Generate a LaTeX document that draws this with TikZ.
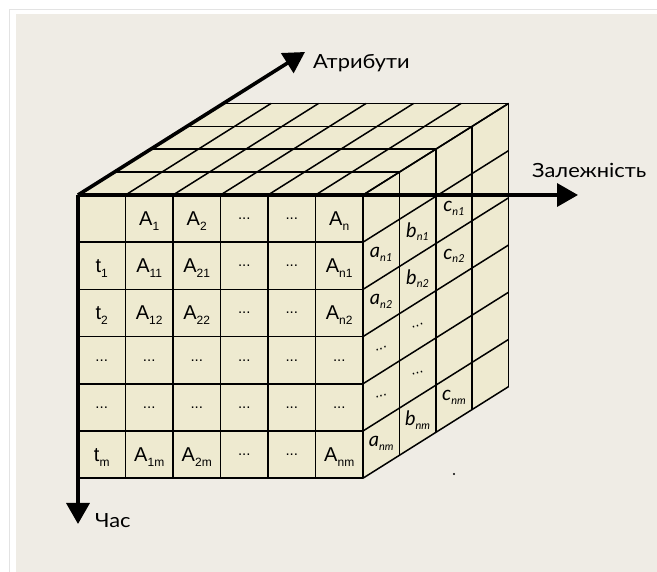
\documentclass[tikz,border=0pt]{standalone}
\usepackage{fontspec}
\setmainfont{Liberation Sans}
\newfontfamily\axfont[FakeStretch=1.12]{Lato}
\newfontfamily\sidefont{Lato}
\usetikzlibrary{arrows.meta}
\definecolor{panel}{HTML}{EFECE5}
\definecolor{cellc}{HTML}{EEEAD0}
\definecolor{frameg}{HTML}{E3E3E3}
\newcommand{\Sb}[2]{#1\raisebox{-4.5pt}{\fontsize{12}{12}\selectfont #2}}
\newcommand{\Si}[2]{{\sidefont\itshape #1\raisebox{-3.5pt}{\fontsize{11}{11}\selectfont #2}}}
\begin{document}
\begin{tikzpicture}[x=1pt,y=-1pt,
  gridl/.style={line width=1.5pt, black},
  axis/.style={line width=3.6pt, black, -{Triangle[length=21pt,width=23pt]}},
  cellt/.style={font=\fontsize{20}{20}\selectfont, inner sep=0pt, anchor=base},
  dotst/.style={font=\fontsize{15}{15}\selectfont, inner sep=0pt, anchor=center},
  sidet/.style={font=\fontsize{20}{20}\selectfont, inner sep=0pt, anchor=center},
  axlab/.style={font=\axfont\fontsize{19.5}{19.5}\selectfont, inner sep=0pt, anchor=west}]
\useasboundingbox (0,0) rectangle (657,572);
\fill[white] (0,0) rectangle (657,572);
\draw[frameg, line width=1.6pt] (9.5,572) -- (9.5,9.5) -- (657,9.5);
\fill[panel] (16,14) rectangle (657,572);
% faces
\fill[cellc] (78,195) rectangle (363,478.2);
\fill[cellc] (78,195) -- (223.6,103.4) -- (508.6,103.4) -- (363,195) -- cycle;
\fill[cellc] (363,195) -- (508.6,103.4) -- (508.6,386.6) -- (363,478.2) -- cycle;
% grids
\foreach \i in {0,...,6}{
  \draw[gridl] ({78+47.5*\i},195) -- ({78+47.5*\i},478.2);
  \draw[gridl] (78,{195+47.2*\i}) -- (363,{195+47.2*\i});
  \draw[gridl] ({78+47.5*\i},195) -- ({78+47.5*\i+145.6},103.4);
  \draw[gridl] (363,{195+47.2*\i}) -- (508.6,{195+47.2*\i-91.6});
}
\foreach \k in {0,...,4}{
  \draw[gridl] ({78+36.4*\k},{195-22.9*\k}) -- ({363+36.4*\k},{195-22.9*\k});
  \draw[gridl] ({363+36.4*\k},{195-22.9*\k}) -- ({363+36.4*\k},{478.2-22.9*\k});
}
% axes
\coordinate (O) at (78,195);
\coordinate (attrtip) at (305,52);
\coordinate (deptip) at (578,195);
\coordinate (timetip) at (78,524);
\draw[axis] (O) -- (attrtip);
\draw[axis] (O) -- (deptip);
\draw[axis] (O) -- (timetip);
\node[axlab] (attr) at (313,63) {Атрибути};
\node[axlab] (dep) at (532,170) {Залежність};
\node[axlab] (time) at (95,521) {Час};
% front labels
\foreach \c/\r/\t in {1/0/{\Sb{A}{1}},2/0/{\Sb{A}{2}},5/0/{\Sb{A}{n}},
  0/1/{\Sb{t}{1}},1/1/{\Sb{A}{11}},2/1/{\Sb{A}{21}},5/1/{\Sb{A}{n1}},
  0/2/{\Sb{t}{2}},1/2/{\Sb{A}{12}},2/2/{\Sb{A}{22}},5/2/{\Sb{A}{n2}},
  0/5/{\Sb{t}{m}},1/5/{\Sb{A}{1m}},2/5/{\Sb{A}{2m}},5/5/{\Sb{A}{nm}}}{
  \node[cellt] (f\c-\r) at ({78+47.5*(\c+0.5)},{195+47.2*(\r+0.5)+7}) {\t};
}
\foreach \c/\r in {3/0,4/0,3/1,4/1,3/2,4/2,0/3,1/3,2/3,3/3,4/3,5/3,0/4,1/4,2/4,3/4,4/4,5/4,3/5,4/5}{
  \node[dotst] (d\c-\r) at ({78+47.5*(\c+0.5)},{195+47.2*(\r+0.5)}) {...};
}
% right face labels
\foreach \k/\r/\t in {0/1/{\Si{a}{n1}},0/2/{\Si{a}{n2}},0/5/{\Si{a}{nm}},
  1/1/{\Si{b}{n1}},1/2/{\Si{b}{n2}},1/5/{\Si{b}{nm}},
  2/1/{\Si{c}{n1}},2/2/{\Si{c}{n2}},2/5/{\Si{c}{nm}}}{
  \node[sidet] (s\k-\r) at ({363+36.4*(\k+0.5)},{195+47.2*(\r+0.5)-22.9*(\k+0.5)}) {\t};
}
\foreach \k/\r in {0/3,0/4,1/3,1/4}{
  \node[dotst, rotate=18] (sd\k-\r) at ({363+36.4*(\k+0.5)},{195+47.2*(\r+0.5)-22.9*(\k+0.5)}) {...};
}
\fill (454,474) circle (1.2);
\end{tikzpicture}
\end{document}
